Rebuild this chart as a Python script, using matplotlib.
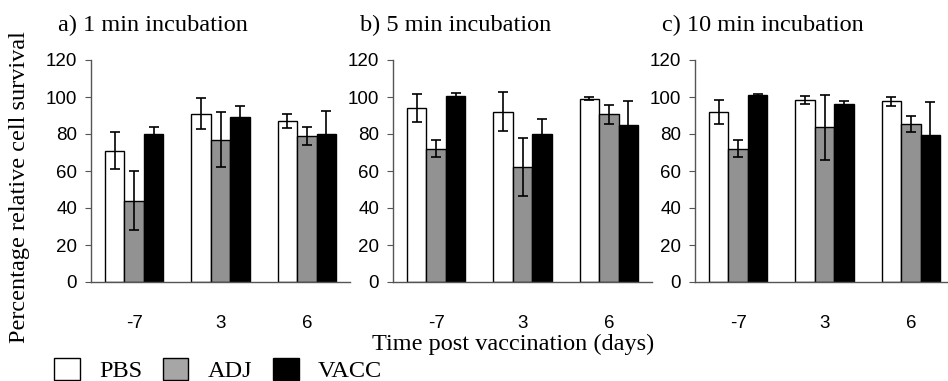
import numpy as np
import matplotlib
matplotlib.use('Agg')
import matplotlib.pyplot as plt
from matplotlib.patches import Patch

days = ['-7', '3', '6']
groups = ['PBS', 'ADJ', 'VACC']
titles = ['a) 1 min incubation', 'b) 5 min incubation', 'c) 10 min incubation']

# mean values per panel, rows = PBS, ADJ, VACC ; cols = day -7, 3, 6
means_1min = [[71, 91, 87], [44, 77, 79], [80, 89, 80]]
errs_1min = [[10, 8.5, 4], [16, 15, 5], [4, 6, 12.5]]
means_5min = [[94, 92, 99], [72, 62, 90.6], [100.5, 80, 85]]
errs_5min = [[7.5, 10.5, 0.8], [4.6, 15.7, 5], [1.5, 8, 13]]
means_10min = [[92, 98.4, 97.6], [72, 83.6, 85.3], [101, 96, 79.5]]
errs_10min = [[6.6, 2, 2.5], [4.7, 17.5, 4.3], [0.8, 1.6, 18]]

panels = [(means_1min, errs_1min), (means_5min, errs_5min), (means_10min, errs_10min)]
colors = ['white', '#929292', 'black']

serif = ['Liberation Serif', 'DejaVu Serif']
sans = ['Liberation Sans', 'DejaVu Sans']

W, H = 948, 381
fig = plt.figure(figsize=(W / 100, H / 100), dpi=100)

lefts = [91, 393, 695]
width_px = 259
bw = 0.226
x = np.arange(len(days))

for k in range(3):
    ax = fig.add_axes([lefts[k] / W, (H - 282) / H, width_px / W, 222 / H])
    means, errs = panels[k]
    for j in range(3):
        ax.bar(x + (j - 1) * bw, means[j], bw, color=colors[j],
               edgecolor='black', linewidth=1.0, zorder=2)
        ax.errorbar(x + (j - 1) * bw, means[j], yerr=errs[j], fmt='none',
                    ecolor='black', elinewidth=1.2, capsize=3.5, capthick=1.2, zorder=3)
    ax.set_xlim(-0.5, 2.5)
    ax.set_ylim(0, 120)
    ax.set_yticks(range(0, 121, 20))
    ax.set_xticks(x)
    ax.set_xticklabels(days)
    for s in ['top', 'right']:
        ax.spines[s].set_visible(False)
    for s in ['left', 'bottom']:
        ax.spines[s].set_color('#555555')
        ax.spines[s].set_linewidth(1.0)
    ax.tick_params(axis='y', direction='out', length=4, width=0.8, color='#555555', pad=6)
    ax.tick_params(axis='x', length=0, pad=24)
    for lab in ax.get_yticklabels() + ax.get_xticklabels():
        lab.set_family(sans)
        lab.set_fontsize(13.5)
    ax.text(-0.128, 1.155, titles[k], transform=ax.transAxes, ha='left', va='center',
            family=serif, fontsize=17.5)

fig.text(20 / W, 1 - 187 / H, 'Percentage relative cell survival', rotation=90,
         ha='center', va='center', family=serif, fontsize=17.5)
fig.text(513 / W, 1 - 344 / H, 'Time post vaccination (days)', ha='center', va='center',
         family=serif, fontsize=17.5)

handles = [Patch(facecolor=c if c != '#929292' else '#a6a6a6', edgecolor='black', linewidth=1.0)
           for c in colors]
fig.legend(handles, groups, loc='center left', bbox_to_anchor=(42 / W, 1 - 370 / H),
           ncol=3, frameon=False, borderpad=0, handlelength=1.05, handleheight=1.05,
           handletextpad=0.8, columnspacing=0.85, prop={'family': serif, 'size': 17.5})

fig.savefig('out.png', dpi=100)
